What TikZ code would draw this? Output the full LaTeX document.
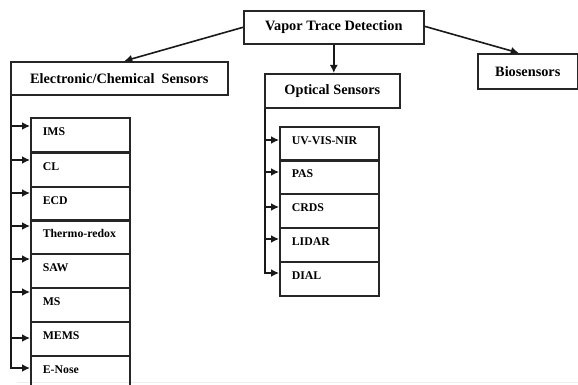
\documentclass[tikz,border=0pt]{standalone}
\usepackage{fontspec}
\setmainfont{Liberation Serif}
\usetikzlibrary{arrows.meta}
\begin{document}
\begin{tikzpicture}[x=1pt,y=-1pt,
  box/.style={draw=black!85, line width=1.6pt, inner sep=0pt, anchor=north west,
    font=\bfseries\fontsize{14.3}{16}\selectfont},
  leaf/.style={draw=black!85, line width=1.6pt, anchor=north west, minimum width=99pt,
    minimum height=34pt, inner xsep=12pt, inner ysep=0pt, text height=10pt, text depth=9pt,
    text width=75pt, align=left, font=\bfseries\fontsize{11.8}{14}\selectfont},
  conn/.style={line width=1.6pt, draw=black!90, -{Latex[length=8pt,width=8pt]}}]
\useasboundingbox (0,0) rectangle (578,385);
\clip (0,0) rectangle (578,385);
\draw[black!7, line width=1pt] (17,382) -- (578,382);

\node[box, minimum width=180pt, minimum height=33pt] (vtd) at (243,10) {Vapor Trace Detection};
\node[box, minimum width=217pt, minimum height=33pt] (ecs) at (10,61) {Electronic/Chemical\ \ Sensors};
\node[box, minimum width=135pt, minimum height=34pt] (opt) at (264,73) {Optical Sensors};
\node[box, minimum width=100pt, minimum height=35pt] (bio) at (477,53) {Biosensors};

\draw[conn] (vtd.west) -- ([xshift=5pt]ecs.north);
\draw[conn] (vtd.south) -- (vtd.south |- opt.north);
\draw[conn] ([yshift=1pt]vtd.east) -- ([xshift=-9pt]bio.north);

% electronic leaves
\node[leaf] (e1) at (30,117) {IMS};
\node[leaf] (e2) at (30,152) {CL};
\node[leaf] (e3) at (30,186) {ECD};
\node[leaf] (e4) at (30,219) {Thermo-redox};
\node[leaf] (e5) at (30,253) {SAW};
\node[leaf] (e6) at (30,287) {MS};
\node[leaf] (e7) at (30,321) {MEMS};
\node[leaf] (e8) at (30,355) {E-Nose};

\coordinate (a1) at ([yshift=-9pt]e1.north west);
\coordinate (a2) at ([yshift=-8pt]e2.north west);
\coordinate (a3) at ([yshift=-7pt]e3.north west);
\coordinate (a4) at ([yshift=-7pt]e4.north west);
\coordinate (a5) at ([yshift=-6pt]e5.north west);
\coordinate (a6) at ([yshift=-5pt]e6.north west);
\coordinate (a7) at ([yshift=-17pt]e7.north west);
\coordinate (a8) at ([yshift=-13pt]e8.north west);
\coordinate (etop) at ([xshift=1pt]ecs.south west);
\draw[conn, line width=2pt] (etop) |- (a8);
\foreach \i in {1,...,7} \draw[conn] (etop |- a\i) -- (a\i);

% optical leaves
\node[leaf] (o1) at (279,126) {UV-VIS-NIR};
\node[leaf] (o2) at (279,159) {PAS};
\node[leaf] (o3) at (279,193) {CRDS};
\node[leaf] (o4) at (279,227) {LIDAR};
\node[leaf] (o5) at (279,261) {DIAL};

\coordinate (b1) at ([yshift=-14pt]o1.north west);
\coordinate (b2) at ([yshift=-13pt]o2.north west);
\coordinate (b3) at ([yshift=-14pt]o3.north west);
\coordinate (b4) at ([yshift=-12pt]o4.north west);
\coordinate (b5) at ([yshift=-12pt]o5.north west);
\coordinate (otop) at ([xshift=0.8pt]opt.south west);
\draw[conn, line width=2pt] (otop) |- (b5);
\foreach \i in {1,...,4} \draw[conn] (otop |- b\i) -- (b\i);
\end{tikzpicture}
\end{document}
